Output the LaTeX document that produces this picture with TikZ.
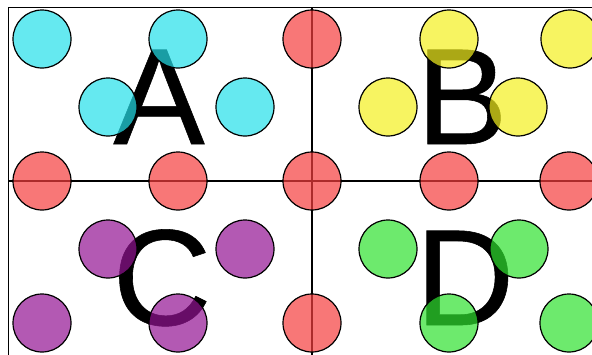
\documentclass[tikz,border=0pt]{standalone}
\usepackage{fontspec}
\setmainfont{Liberation Sans}
\newfontfamily\quadfont[FakeBold=0.4]{Liberation Sans}
\usetikzlibrary{positioning}
\definecolor{DotCyan}{RGB}{36,224,234}
\definecolor{DotRed}{RGB}{246,62,62}
\definecolor{DotYellow}{RGB}{245,240,30}
\definecolor{DotPurple}{RGB}{148,19,148}
\definecolor{DotGreen}{RGB}{48,226,48}
\tikzset{dot/.style={circle,draw=black,line width=1.2pt,fill opacity=0.7,
minimum size=58pt,inner sep=0pt},
letter/.style={anchor=base,inner sep=0pt,font=\quadfont\fontsize{137}{137}\selectfont},
divider/.style={draw=black,line width=1.8pt}}

\begin{document}
\begin{tikzpicture}[x=1pt,y=-1pt]
\useasboundingbox (0,0) rectangle (592,354);
\clip (0,0) rectangle (592,354);
\fill[white] (0,0) rectangle (592,354);
% frame and quadrant lines
\coordinate (tl) at (8.5,7.5);
\coordinate (tr) at (600,7.5);
\coordinate (bl) at (8.5,360);
\coordinate (vtop) at (312,7.5);
\coordinate (vbot) at (312,360);
\coordinate (hleft) at (8.5,181);
\coordinate (hright) at (600,181);
\draw[divider] (tr)--(tl)--(bl);
\draw[divider] (vtop)--(vbot);
\draw[divider] (hleft)--(hright);
% letters
\node[letter](A) at (159,144){A};
\node[letter](B) at (462,144){B};
\node[letter](C) at (162,325){C};
\node[letter](D) at (465,325){D};
% dots
\foreach \x/\y [count=\i] in {42/39,178/39,108/107,245/107}
  \node[dot,fill=DotCyan](a\i) at (\x,\y){};
\foreach \x/\y [count=\i] in {449/39,570/39,388/107,518/107}
  \node[dot,fill=DotYellow](b\i) at (\x,\y){};
\foreach \x/\y [count=\i] in {108/249,245/249,42/323,178/323}
  \node[dot,fill=DotPurple](c\i) at (\x,\y){};
\foreach \x/\y [count=\i] in {388/249,519/249,449/323,569/323}
  \node[dot,fill=DotGreen](d\i) at (\x,\y){};
\foreach \x/\y [count=\i] in {312/39,42/181,178/181,312/181,449/181,569/181,312/323}
  \node[dot,fill=DotRed](r\i) at (\x,\y){};
\end{tikzpicture}
\end{document}
